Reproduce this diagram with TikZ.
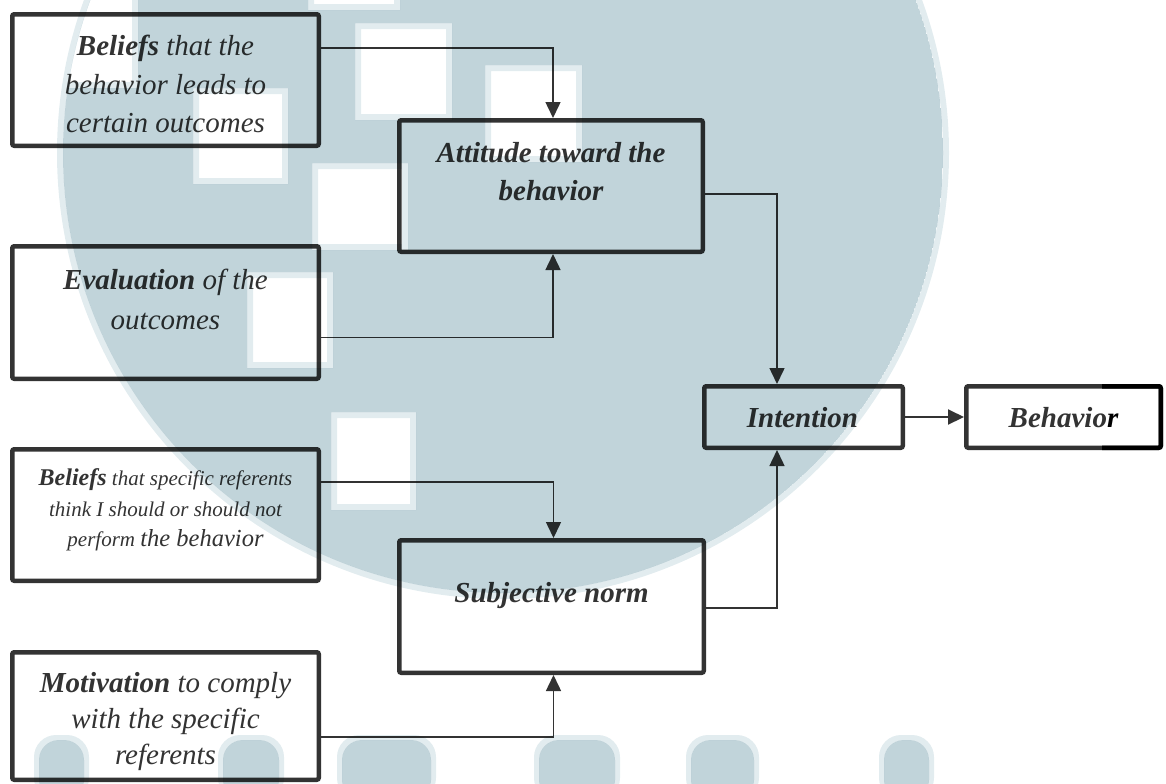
\documentclass[tikz,border=0pt]{standalone}
\usepackage{fontspec}
\setmainfont{Liberation Serif}
\usetikzlibrary{arrows.meta,calc}

\definecolor{ink}{HTML}{333333}
\definecolor{wm}{RGB}{193,212,218}
\definecolor{wmrim}{RGB}{226,236,239}

\tikzset{
  box/.style={draw=ink, line width=2.25pt, rounded corners=1pt, inner sep=0pt},
  lbl/.style={text=ink, align=center, inner sep=0pt,
    execute at begin node=\strut, execute at end node=\strut},
  link/.style={draw=ink, line width=0.75pt, -{Triangle[length=8pt,width=7.5pt]}},
  bigtext/.style={font=\fontsize{14.5}{#1}\selectfont\itshape},
}

\begin{document}
\begin{tikzpicture}[x=0.5pt,y=-0.5pt]
\useasboundingbox (0,0) rectangle (1166,783);

% ---------- boxes ----------
\node[box, minimum width=153.25pt, minimum height=65.75pt] (b1)  at (165.5,80)    {};
\node[box, minimum width=151.75pt, minimum height=65.75pt] (att) at (551,186)     {};
\node[box, minimum width=153.25pt, minimum height=66.25pt] (ev)  at (165.5,312.5) {};
\node[box, minimum width=99.25pt,  minimum height=30.75pt] (int) at (803.5,417)   {};
\node[box, minimum width=97.25pt,  minimum height=30.75pt] (beh) at (1063.5,417)  {};
\node[box, minimum width=153.25pt, minimum height=65.75pt] (b2)  at (165.5,515)   {};
\node[box, minimum width=152.25pt, minimum height=66.25pt] (sub) at (551.5,606.5) {};
\node[box, minimum width=153.25pt, minimum height=63.75pt] (mot) at (165.5,716)   {};

% darker right end of the Behavior frame
\draw[black, line width=2.25pt, rounded corners=1pt]
  ([xshift=-30.5pt,yshift=-1.125pt]beh.north east) --
  ([xshift=-1.125pt,yshift=-1.125pt]beh.north east) --
  ([xshift=-1.125pt,yshift=1.125pt]beh.south east) --
  ([xshift=-30.5pt,yshift=1.125pt]beh.south east);

% ---------- texts ----------
\node[lbl, bigtext=19.25pt] (b1t) at ($(b1.center)+(0,9.8)$)
  {\textbf{Beliefs} that the\\behavior leads to\\certain outcomes};
\node[lbl, bigtext=19pt] (attt) at ($(att.center)+(0,-8.6)$)
  {\bfseries Attitude toward the\\\bfseries behavior};
\node[lbl, bigtext=20pt] (evt) at ($(ev.center)+(0,-7.5)$)
  {\textbf{Evaluation} of the\\outcomes};
\node[lbl, bigtext=19pt] (intt) at ($(int.center)+(-1,3)$)
  {\bfseries Intention};
\node[lbl, bigtext=19pt] (beht) at ($(beh.center)+(0,3)$)
  {\bfseries Behavio{\color{black}r}};
\node[lbl, font=\fontsize{10.5}{15.25}\selectfont\itshape] (b2t) at ($(b2.center)+(0,-2.6)$)
  {{\fontsize{12}{15.25}\selectfont\bfseries Beliefs} that specific referents\\
   think I should or should not\\
   perform {\fontsize{12.25}{15.25}\selectfont the behavior}};
\node[lbl, bigtext=19pt] (subt) at ($(sub.center)+(0,-11.6)$)
  {\bfseries Subjective norm};
\node[lbl, bigtext=18pt] (mott) at ($(mot.center)+(0,7.8)$)
  {\textbf{Motivation} to comply\\with the specific\\referents};

% ---------- connectors ----------
\draw[link] ([yshift=16pt]b1.east)    -| ([xshift=1pt]att.north);
\draw[link] ([yshift=-12.5pt]ev.east) -| ([xshift=1pt]att.south);
\draw[link] ([yshift=-4pt]att.east)   -| ([xshift=-13.25pt]int.north);
\draw[link, line width=1pt] (int.east) -- (beh.west);
\draw[link] ([yshift=16.5pt]b2.east)  -| ([xshift=1pt]sub.north);
\draw[link] ([yshift=-10.5pt]mot.east) -| ([xshift=1pt]sub.south);
\draw[link] ([yshift=-0.75pt]sub.east) -| ([xshift=-13.25pt]int.south);

% ---------- background emblem, multiplied over the drawing ----------
\begin{scope}[blend mode=multiply]
  \fill[wmrim, even odd rule] (503,153) circle[radius=223pt] (503,153) circle[radius=220pt];
  \begin{scope}
    \clip (503,153) circle[radius=220pt];
    \fill[wm, even odd rule] (503,153) circle[radius=220pt]
      (55,-100) rectangle (138,88)
      (308,-100) rectangle (400,10)
      (355,23) rectangle (452,120)
      (485,65) rectangle (582,162)
      (193,88) rectangle (288,184)
      (312,163) rectangle (408,250)
      (247,272) rectangle (333,368)
      (331,412) rectangle (416,510);
    \fill[wmrim, even odd rule]
      (55,-100) rectangle (138,88)   (49,-100) rectangle (132,82)
      (308,-100) rectangle (400,10)  (314,-100) rectangle (394,4)
      (355,23) rectangle (452,120)   (361,29) rectangle (446,114)
      (485,65) rectangle (582,162)   (491,71) rectangle (576,156)
      (193,88) rectangle (288,184)   (199,94) rectangle (282,178)
      (312,163) rectangle (408,250)  (318,169) rectangle (402,244)
      (247,272) rectangle (333,368)  (253,278) rectangle (327,362)
      (331,412) rectangle (416,510)  (337,418) rectangle (410,504);
  \end{scope}
  % row of rounded tops along the lower edge
  \foreach \xa/\xb in {39/84, 223/279, 342/431, 539/615, 691/754, 884/929}{
    \fill[wm, rounded corners=10pt] (\xa,800) |- (\xb,740) -- (\xb,800) -- cycle;
    \fill[wmrim, even odd rule, rounded corners=11pt]
      (\xa-5,800) |- (\xb+5,735) -- (\xb+5,800) -- cycle
      [rounded corners=10pt] (\xa,800) |- (\xb,740) -- (\xb,800) -- cycle;
  }
\end{scope}
\end{tikzpicture}
\end{document}
